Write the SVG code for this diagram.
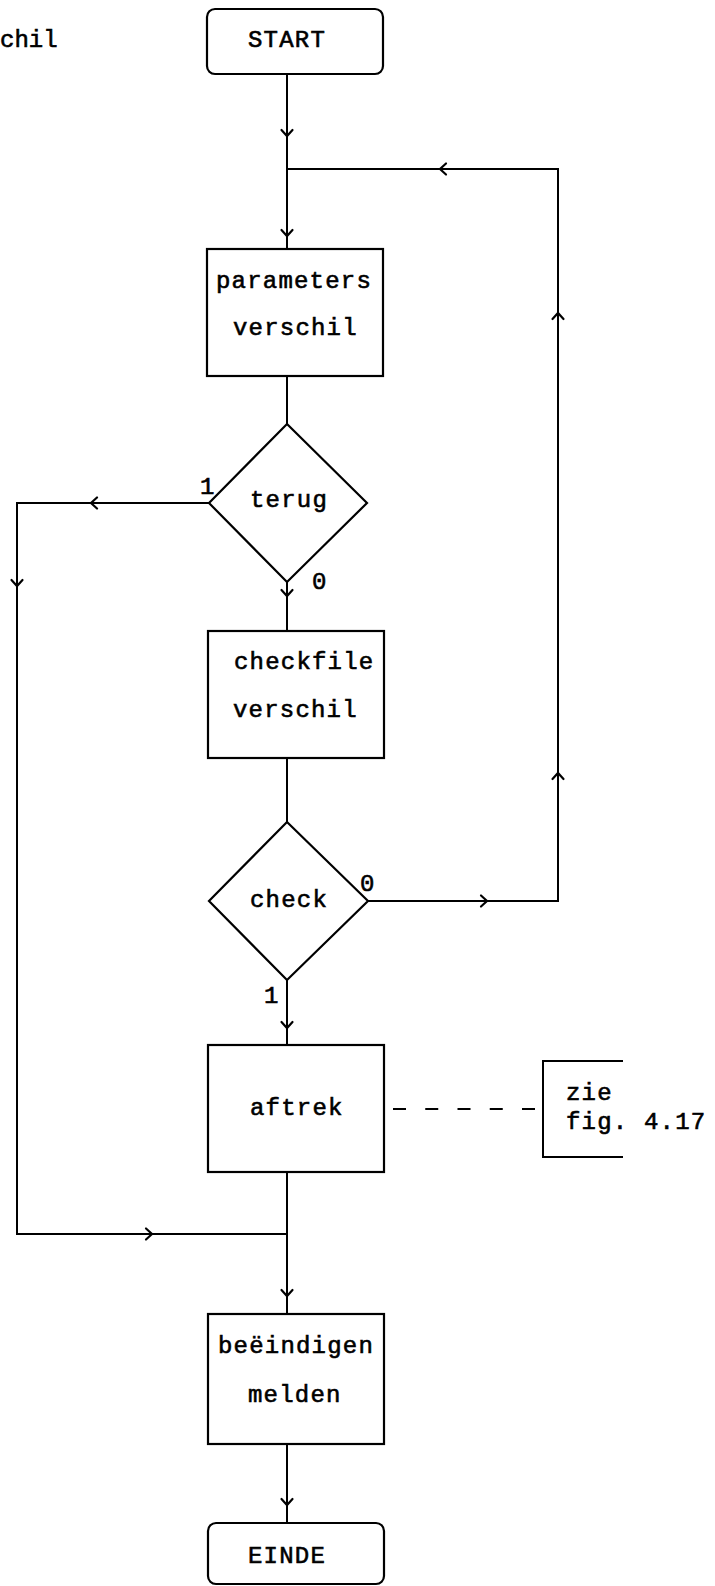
<svg xmlns="http://www.w3.org/2000/svg" width="715" height="1586" viewBox="0 0 715 1586">
  <style>
    .bg { fill: #ffffff; }
    .box { fill: #ffffff; stroke: #000000; stroke-width: 2.2; }
    .ln { fill: none; stroke: #000000; stroke-width: 2; }
    .dash { fill: none; stroke: #000000; stroke-width: 2; stroke-dasharray: 13 19.25; }
    .chev { fill: none; stroke: #000000; stroke-width: 2.2; stroke-linecap: round; stroke-linejoin: miter; }
    text { font-family: "Liberation Mono", "DejaVu Sans Mono", monospace; font-size: 24px; letter-spacing: 1.2px; fill: #000000; stroke: #000000; stroke-width: 0.6px; }
  </style>
  <defs>
    <path id="chev" class="chev" d="M-5.5,-6 L0,0 L5.5,-6"/>
  </defs>
  <rect class="bg" x="0" y="0" width="715" height="1586"/>

  <text x="0" y="47" style="letter-spacing:0">chil</text>

  <g id="connectors">
    <path class="ln" d="M287,74 V249"/>
    <path class="ln" d="M287,376 V424"/>
    <path class="ln" d="M287,582 V631"/>
    <path class="ln" d="M287,758 V822"/>
    <path class="ln" d="M287,980 V1045"/>
    <path class="ln" d="M287,1172 V1314"/>
    <path class="ln" d="M287,1444 V1523"/>
    <path class="ln" d="M368,901 H558 V169 H287"/>
    <path class="ln" d="M209,503 H17 V1234 H287"/>
    <path class="dash" d="M393,1109 H535"/>
    <use href="#chev" transform="translate(287,136)"/>
    <use href="#chev" transform="translate(287,236)"/>
    <use href="#chev" transform="translate(287,596)"/>
    <use href="#chev" transform="translate(287,1028)"/>
    <use href="#chev" transform="translate(287,1296)"/>
    <use href="#chev" transform="translate(287,1505)"/>
    <use href="#chev" transform="translate(17,586)"/>
    <use href="#chev" transform="translate(440,169) rotate(90)"/>
    <use href="#chev" transform="translate(91,503) rotate(90)"/>
    <use href="#chev" transform="translate(558,313) rotate(180)"/>
    <use href="#chev" transform="translate(558,773) rotate(180)"/>
    <use href="#chev" transform="translate(487,901) rotate(-90)"/>
    <use href="#chev" transform="translate(152,1234) rotate(-90)"/>
  </g>

  <g id="start">
    <rect class="box" x="207" y="9" width="176" height="65" rx="8"/>
    <text x="248" y="47">START</text>
  </g>

  <g id="parameters">
    <rect class="box" x="207" y="249" width="176" height="127"/>
    <text x="216" y="288">parameters</text>
    <text x="233" y="335">verschil</text>
  </g>

  <g id="terug">
    <polygon class="box" points="287,424 367,503 287,582 209,503"/>
    <text x="250" y="507">terug</text>
    <text x="200" y="494">1</text>
    <text x="312" y="589">0</text>
  </g>

  <g id="checkfile">
    <rect class="box" x="208" y="631" width="176" height="127"/>
    <text x="234" y="669">checkfile</text>
    <text x="233" y="717">verschil</text>
  </g>

  <g id="check">
    <polygon class="box" points="287,822 368,901 287,980 209,901"/>
    <text x="250" y="907">check</text>
    <text x="360" y="891">0</text>
    <text x="264" y="1003">1</text>
  </g>

  <g id="aftrek">
    <rect class="box" x="208" y="1045" width="176" height="127"/>
    <text x="250" y="1115">aftrek</text>
  </g>

  <g id="zie">
    <path class="ln" d="M623,1061 H543 V1157 H623"/>
    <text x="566" y="1100">zie</text>
    <text x="566" y="1129">fig. 4.17</text>
  </g>

  <g id="beeindigen">
    <rect class="box" x="208" y="1314" width="176" height="130"/>
    <text x="218" y="1353">beëindigen</text>
    <text x="248" y="1402">melden</text>
  </g>

  <g id="einde">
    <rect class="box" x="208" y="1523" width="176" height="61" rx="8"/>
    <text x="248" y="1563">EINDE</text>
  </g>
</svg>
